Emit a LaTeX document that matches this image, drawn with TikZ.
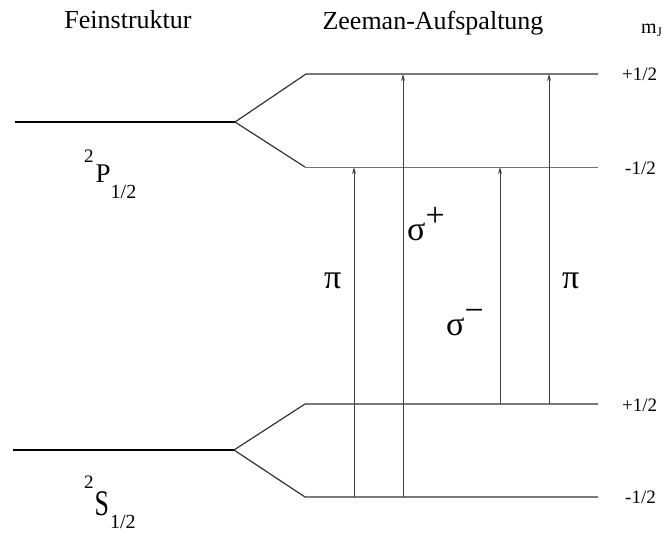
\documentclass[tikz,border=0pt]{standalone}
\usepackage{fontspec}
\setmainfont{Liberation Serif}
\usetikzlibrary{arrows.meta}

\begin{document}
\begin{tikzpicture}[x=1pt, y=-1pt, >={Stealth[length=7pt,width=4pt]},
  fine/.style={line width=2.6pt},
  zee/.style={line width=1.2pt, black!80},
  tr/.style={->, line width=1pt, black!75},
  head/.style={anchor=base, inner sep=0pt, font=\fontsize{26}{30}\selectfont},
  mj/.style={anchor=west, inner sep=0pt, font=\fontsize{19}{22}\selectfont},
  gr/.style={anchor=base west, inner sep=0pt, font=\fontsize{34}{38}\selectfont}]
\useasboundingbox (0,0) rectangle (668,533);
\node[head] (fs) at (128,28) {Feinstruktur};
\node[head] (zs) at (433,29) {Zeeman-Aufspaltung};
\node[anchor=base west, inner sep=0pt, font=\fontsize{20}{22}\selectfont] (mJ) at (641,33)
  {m\raisebox{-3pt}{\fontsize{13}{13}\selectfont J}};
% right end of the Zeeman levels
\coordinate (R) at (598,0);
% 2P1/2
\coordinate (Pl) at (15,122);
\coordinate (P) at (235,122);
\coordinate (Pp) at (306,74);
\coordinate (Pm) at (305,167);
\draw[fine] (Pl) -- (P);
\draw[zee] (P) -- (Pp) -- (Pp -| R);
\draw[zee] (P) -- (Pm);
\draw[line width=0.9pt, black!55] (Pm) -- (Pm -| R);
% 2S1/2
\coordinate (Sl) at (13,450);
\coordinate (S) at (234,450);
\coordinate (Sp) at (305,404);
\coordinate (Sm) at (305,497);
\draw[fine] (Sl) -- (S);
\draw[zee] (S) -- (Sp) -- (Sp -| R);
\draw[zee] (S) -- (Sm) -- (Sm -| R);
\node[mj] (lPp) at (622,74) {+1/2};
\node[mj] (lPm) at (625,168) {-1/2};
\node[mj] (lSp) at (622,405) {+1/2};
\node[mj] (lSm) at (625,497) {-1/2};
\node[anchor=base west, inner sep=0pt, font=\fontsize{27}{30}\selectfont] (Pn) at (84,182)
  {\raisebox{20pt}{\fontsize{19}{19}\selectfont 2}\hspace{2pt}P\raisebox{-16pt}{\fontsize{20}{20}\selectfont 1/2}};
\node[anchor=base west, inner sep=0pt, font=\fontsize{36}{40}\selectfont] (Sn) at (84,515)
  {\raisebox{27pt}{\fontsize{19}{19}\selectfont 2}\hspace{1pt}\scalebox{0.72}[1]{S}\hspace{1pt}\raisebox{-13pt}{\fontsize{20}{20}\selectfont 1/2}};
% transitions
\coordinate (a1) at (354,0);
\coordinate (a2) at (403,0);
\coordinate (a3) at (500,0);
\coordinate (a4) at (549,0);
\draw[tr] (a1 |- Sm) -- (a1 |- Pm);
\draw[tr] (a2 |- Sm) -- (a2 |- Pp);
\draw[tr] (a3 |- Sp) -- (a3 |- Pm);
\draw[tr] (a4 |- Sp) -- (a4 |- Pp);
\node[gr] (pi1) at (324,288) {π};
\node[gr] (sp) at (407,240) {σ\raisebox{14pt}{+}};
\node[gr] (sm) at (446,335) {σ\raisebox{14pt}{−}};
\node[gr] (pi2) at (562,288) {π};
\end{tikzpicture}
\end{document}
